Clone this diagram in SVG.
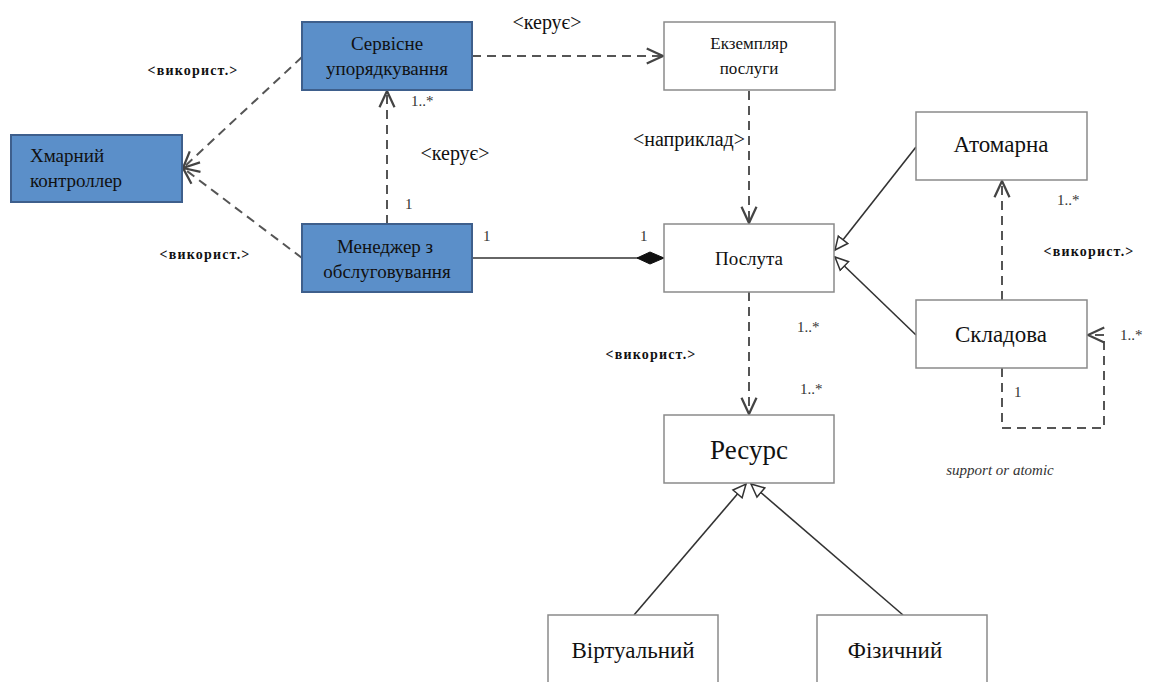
<svg xmlns="http://www.w3.org/2000/svg" width="1151" height="682" viewBox="0 0 1151 682">
<style>
text{font-family:'Liberation Serif','DejaVu Serif','Noto Serif',serif}
.blue{fill:#5b8fc9;stroke:#3e5f8c;stroke-width:2}
.white{fill:#fff;stroke:#8a8a8a;stroke-width:1.5}
.t{fill:#111;text-anchor:middle}
.ts{fill:#111;text-anchor:start}
.lbl{fill:#111;font-size:20px;text-anchor:middle}
.use{fill:#111;font-size:14px;font-weight:bold;letter-spacing:1.2px;text-anchor:middle}
.m{fill:#333;font-size:15px}
.d{fill:none;stroke:#555;stroke-width:2;stroke-dasharray:9,6}
.s{fill:none;stroke:#333;stroke-width:1.6}
</style>
<defs>
<marker id="open" markerUnits="userSpaceOnUse" markerWidth="20" markerHeight="20" refX="14" refY="8" orient="auto" viewBox="0 0 16 16">
<path d="M1,2 L14,8 L1,14" fill="none" stroke="#444" stroke-width="1.8"/>
</marker>
<marker id="tri" markerUnits="userSpaceOnUse" markerWidth="16" markerHeight="16" refX="14" refY="7" orient="auto" viewBox="0 0 16 14">
<path d="M1,1 L14,7 L1,13 Z" fill="#fff" stroke="#333" stroke-width="1.5"/>
</marker>
<marker id="dia" markerUnits="userSpaceOnUse" markerWidth="30" markerHeight="14" refX="28" refY="7" orient="auto" viewBox="0 0 30 14">
<path d="M1,7 L14,1 L28,7 L14,13 Z" fill="#111" stroke="#111" stroke-width="1"/>
</marker>
</defs>
<rect width="1151" height="682" fill="#fff"/>
<g id="connectors">
<line class="d" x1="472" y1="56" x2="663" y2="56" marker-end="url(#open)"/>
<line class="d" x1="749" y1="91" x2="749" y2="223" marker-end="url(#open)"/>
<line class="d" x1="387" y1="224" x2="387" y2="91" marker-end="url(#open)"/>
<line class="d" x1="302" y1="57" x2="183" y2="168" marker-end="url(#open)"/>
<line class="d" x1="302" y1="258" x2="183" y2="168" marker-end="url(#open)"/>
<line class="s" x1="472" y1="258" x2="664" y2="258" stroke-width="2" marker-end="url(#dia)"/>
<line class="s" x1="916" y1="147" x2="835" y2="250" marker-end="url(#tri)"/>
<line class="s" x1="916" y1="335" x2="835" y2="257" marker-end="url(#tri)"/>
<line class="d" x1="1002" y1="300" x2="1002" y2="181" marker-end="url(#open)"/>
<path class="d" d="M1002,368 L1002,428 L1104,428 L1104,335 L1088,335" marker-end="url(#open)"/>
<line class="d" x1="749" y1="292" x2="749" y2="414" marker-end="url(#open)"/>
<line class="s" x1="634" y1="615" x2="746" y2="484" marker-end="url(#tri)"/>
<line class="s" x1="903" y1="615" x2="751" y2="484" marker-end="url(#tri)"/>
<text class="lbl" x="547" y="29">&lt;керує&gt;</text>
<text class="lbl" x="455" y="160">&lt;керує&gt;</text>
<text class="lbl" x="689" y="146" font-size="18">&lt;наприклад&gt;</text>
<text class="use" x="193" y="75">&lt;використ.&gt;</text>
<text class="use" x="205" y="259">&lt;використ.&gt;</text>
<text class="use" x="651" y="359">&lt;використ.&gt;</text>
<text class="use" x="1089" y="256">&lt;використ.&gt;</text>
<text class="m" x="411" y="106">1..*</text>
<text class="m" x="405" y="209">1</text>
<text class="m" x="483" y="241">1</text>
<text class="m" x="640" y="241">1</text>
<text class="m" x="797" y="332">1..*</text>
<text class="m" x="800" y="394">1..*</text>
<text class="m" x="1057" y="205">1..*</text>
<text class="m" x="1120" y="340">1..*</text>
<text class="m" x="1014" y="397">1</text>
<text x="1000" y="475" font-style="italic" font-size="15" fill="#333" text-anchor="middle">support or atomic</text>
</g>
<g id="n-servisne">
<rect class="blue" x="302" y="22" width="170" height="68"/>
<text class="t" x="387" y="50" font-size="19">Сервісне</text>
<text class="t" x="387" y="75" font-size="19">упорядкування</text>
</g>
<g id="n-khmarnyi">
<rect class="blue" x="11" y="135" width="171" height="67"/>
<text class="ts" x="30" y="162" font-size="19">Хмарний</text>
<text class="ts" x="30" y="187" font-size="19">контроллер</text>
</g>
<g id="n-menedzher">
<rect class="blue" x="302" y="224" width="170" height="68"/>
<text class="t" x="385" y="253" font-size="19">Менеджер з</text>
<text class="t" x="387" y="278" font-size="19">обслуговування</text>
</g>
<g id="n-ekzempliar">
<rect class="white" x="664" y="22" width="171" height="68"/>
<text class="t" x="749" y="49" font-size="17">Екземпляр</text>
<text class="t" x="749" y="74" font-size="17">послуги</text>
</g>
<g id="n-posluga">
<rect class="white" x="664" y="224" width="170" height="68"/>
<text class="t" x="749" y="265" font-size="19">Послута</text>
</g>
<g id="n-atomarna">
<rect class="white" x="916" y="112" width="171" height="68"/>
<text class="t" x="1001" y="152" font-size="23">Атомарна</text>
</g>
<g id="n-skladova">
<rect class="white" x="916" y="300" width="171" height="68"/>
<text class="t" x="1001" y="342" font-size="23">Складова</text>
</g>
<g id="n-resurs">
<rect class="white" x="664" y="415" width="170" height="68"/>
<text class="t" x="749" y="459" font-size="27">Ресурс</text>
</g>
<g id="n-virtualnyi">
<rect class="white" x="548" y="615" width="170" height="75"/>
<text class="t" x="633" y="658" font-size="23">Віртуальний</text>
</g>
<g id="n-fizychnyi">
<rect class="white" x="817" y="615" width="170" height="75"/>
<text class="t" x="895" y="658" font-size="23">Фізичний</text>
</g>
</svg>
